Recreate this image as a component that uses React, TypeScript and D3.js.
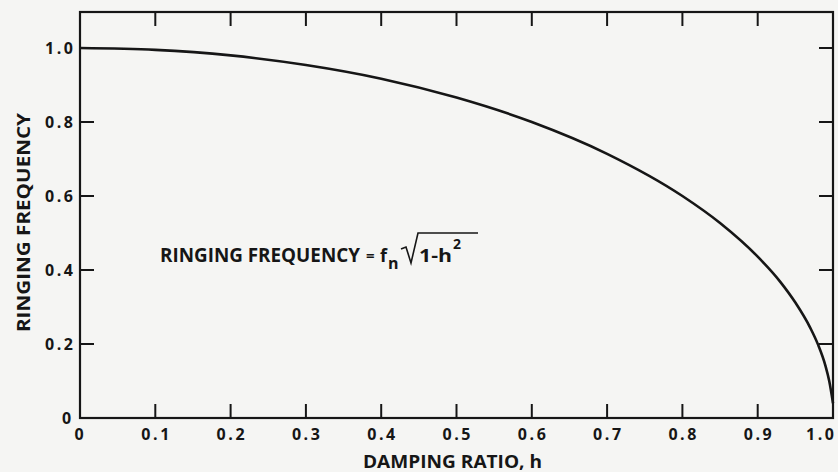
import React from "react";
import * as d3 from "d3";

const dampingRatio = [0, 0.1, 0.2, 0.3, 0.4, 0.5, 0.6, 0.7, 0.8, 0.85, 0.9, 0.93, 0.95, 0.97, 0.98, 0.99, 0.995, 1.0];
const ringingFreq = [1.0, 0.995, 0.98, 0.954, 0.917, 0.866, 0.8, 0.714, 0.6, 0.527, 0.436, 0.368, 0.312, 0.243, 0.199, 0.141, 0.1, 0.04];
const xTicks = [0, 0.1, 0.2, 0.3, 0.4, 0.5, 0.6, 0.7, 0.8, 0.9, 1.0];
const xTickLabels = ["0", "0.1", "0.2", "0.3", "0.4", "0.5", "0.6", "0.7", "0.8", "0.9", "1.0"];
const yTicks = [0, 0.2, 0.4, 0.6, 0.8, 1.0];
const yTickLabels = ["0", "0.2", "0.4", "0.6", "0.8", "1.0"];

const W = 838, H = 472;
const L = 80, R = 833, T = 12, B = 418;
const FONT = "'Open Sans', 'DejaVu Sans', sans-serif";
const INK = "#161616";

export default function App() {
  const x = d3.scaleLinear().domain([0, 1]).range([L, R]);
  const y = d3.scaleLinear().domain([0, 1]).range([B, 48]);
  const line = d3
    .line<number>()
    .x((_, i) => x(dampingRatio[i]))
    .y((d) => y(d))
    .curve(d3.curveMonotoneX);
  const tick = 14;
  const labelLen = (s: string) => (s.length === 1 ? 11 : 28);
  return (
    <svg width={W} height={H} style={{ position: "absolute", left: 0, top: 0, background: "#f5f5f3" }}>
      <rect x={0} y={0} width={W} height={H} fill="#f5f5f3" />
      {/* frame */}
      <rect x={L} y={T} width={R - L} height={B - T} fill="none" stroke={INK} strokeWidth={2.2} />
      {/* x ticks bottom and top */}
      {xTicks.map((t, i) =>
        i === 0 || i === xTicks.length - 1 ? null : (
          <g key={"xt" + i}>
            <line x1={x(t)} x2={x(t)} y1={B} y2={B - tick} stroke={INK} strokeWidth={2} />
            <line x1={x(t)} x2={x(t)} y1={T} y2={T + tick} stroke={INK} strokeWidth={2} />
          </g>
        )
      )}
      {xTicks.map((t, i) => {
        const last = i === xTicks.length - 1;
        const s = xTickLabels[i];
        const len = labelLen(s);
        const cx = last ? R - 13 : x(t);
        return (
          <text
            key={"xl" + i}
            x={cx - len / 2}
            y={440}
            fontFamily={FONT}
            fontWeight="bold"
            fontSize={16}
            textLength={len}
            lengthAdjust="spacing"
            fill={INK}
          >
            {s}
          </text>
        );
      })}
      {/* y ticks left and right */}
      {yTicks.map((t, i) =>
        i === 0 ? null : (
          <g key={"yt" + i}>
            <line x1={L} x2={L + tick} y1={y(t)} y2={y(t)} stroke={INK} strokeWidth={2} />
            <line x1={R} x2={R - tick} y1={y(t)} y2={y(t)} stroke={INK} strokeWidth={2} />
          </g>
        )
      )}
      {yTicks.map((t, i) => {
        const s = yTickLabels[i];
        const len = labelLen(s);
        return (
          <text
            key={"yl" + i}
            x={73 - len}
            y={y(t) + 6}
            fontFamily={FONT}
            fontWeight="bold"
            fontSize={16}
            textLength={len}
            lengthAdjust="spacing"
            fill={INK}
          >
            {s}
          </text>
        );
      })}
      {/* curve */}
      <path d={line(ringingFreq) || ""} fill="none" stroke={INK} strokeWidth={2.6} />
      {/* axis titles */}
      <text
        x={363}
        y={468}
        fontFamily={FONT}
        fontWeight="bold"
        fontSize={17.5}
        textLength={179}
        lengthAdjust="spacingAndGlyphs"
        fill={INK}
      >
        DAMPING RATIO, h
      </text>
      <text
        transform="translate(30,332) rotate(-90)"
        fontFamily={FONT}
        fontWeight="bold"
        fontSize={17.5}
        textLength={219}
        lengthAdjust="spacingAndGlyphs"
        fill={INK}
      >
        RINGING FREQUENCY
      </text>
      {/* formula */}
      <text x={160} y={262} fontFamily={FONT} fontWeight="bold" fontSize={19} fill={INK} textLength={200} lengthAdjust="spacingAndGlyphs">
        RINGING FREQUENCY
      </text>
      <text x={366} y={261} fontFamily={FONT} fontWeight="bold" fontSize={15} fill={INK}>=</text>
      <text x={380} y={262} fontFamily={FONT} fontWeight="bold" fontSize={18} fill={INK}>f</text>
      <text x={388} y={269} fontFamily={FONT} fontWeight="bold" fontSize={16} fill={INK}>n</text>
      <path d="M401,249 L406,247 L411,263 L418,233 L478,233" fill="none" stroke={INK} strokeWidth={1.6} />
      <text x={419} y={262} fontFamily={FONT} fontWeight="bold" fontSize={17} fill={INK} textLength={33} lengthAdjust="spacingAndGlyphs">1-h</text>
      <text x={453} y={249} fontFamily={FONT} fontWeight="bold" fontSize={14} fill={INK}>2</text>
    </svg>
  );
}
